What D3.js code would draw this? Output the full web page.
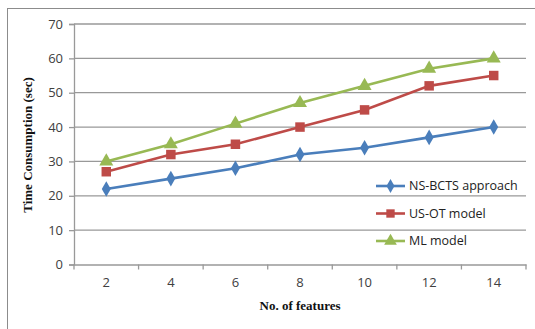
<!DOCTYPE html>
<html><head><meta charset="utf-8">
<script src="https://cdn.jsdelivr.net/npm/d3@7"></script>
<style>body{margin:0;background:#fff}svg{display:block}</style>
</head><body>
<svg id="c" width="535" height="329"></svg>
<script>
const categories = ["2","4","6","8","10","12","14"];
const nsbcts = [22,25,28,32,34,37,40];
const usot = [27,32,35,40,45,52,55];
const ml = [30,35,41,47,52,57,60];
const yTicks = [0,10,20,30,40,50,60,70];
const seriesNames = ["NS-BCTS approach","US-OT model","ML model"];

const series = [
  {name: seriesNames[0], values: nsbcts, color: "#4a7ebb", shape: d3.symbolDiamond},
  {name: seriesNames[1], values: usot, color: "#be4b48", shape: d3.symbolSquare},
  {name: seriesNames[2], values: ml, color: "#98b954", shape: d3.symbolTriangle}
];

const svg = d3.select("#c");
svg.append("rect").attr("x",7.5).attr("y",8.5).attr("width",600).attr("height",400)
  .attr("fill","none").attr("stroke","#8c8c8c").attr("stroke-width",1);

const L = 74, R = 526, T = 24, B = 264.5;
const x = d3.scaleBand().domain(categories).range([L,R]);
const y = d3.scaleLinear().domain([0,70]).range([B,T]);

// gridlines
svg.append("g").selectAll("line").data(yTicks.filter(d=>d>0)).join("line")
  .attr("x1",L).attr("x2",R).attr("y1",d=>y(d)).attr("y2",d=>y(d))
  .attr("stroke","#999").attr("stroke-width",1.3);

// y axis
const ya = svg.append("g").attr("transform",`translate(${L},0)`)
  .call(d3.axisLeft(y).tickValues(yTicks).tickSize(5).tickPadding(6));
ya.select(".domain").attr("stroke","#999").attr("stroke-width",1.3);
ya.selectAll(".tick line").attr("stroke","#999").attr("stroke-width",1.3);
ya.selectAll("text").attr("font-family","Open Sans, sans-serif").attr("font-size",13).attr("fill","#404040");

// x axis
const xa = svg.append("g").attr("transform",`translate(0,${B})`)
  .call(d3.axisBottom(x).tickSize(0).tickPadding(13));
xa.select(".domain").attr("stroke","#999").attr("stroke-width",1.3);
xa.selectAll(".tick line").remove();
xa.selectAll("text").attr("font-family","Open Sans, sans-serif").attr("font-size",13).attr("fill","#404040");
const bounds = categories.map(c=>x(c)).concat([R]);
svg.append("g").selectAll("line").data(bounds).join("line")
  .attr("x1",d=>d).attr("x2",d=>d).attr("y1",B).attr("y2",B+5)
  .attr("stroke","#999").attr("stroke-width",1.3);

const cx = c => x(c) + x.bandwidth()/2;
const line = d3.line().x((d,i)=>cx(categories[i])).y(d=>y(d));

series.forEach(s=>{
  svg.append("path").datum(s.values).attr("d",line)
    .attr("fill","none").attr("stroke",s.color).attr("stroke-width",2.6);
  svg.append("g").selectAll("path").data(s.values).join("path")
    .attr("transform",(d,i)=>`translate(${cx(categories[i])},${y(d)})`)
    .attr("d",d3.symbol().type(s.shape).size(s.shape===d3.symbolDiamond?70:s.shape===d3.symbolSquare?90:85))
    .attr("fill",s.color);
});

// legend
const lg = svg.append("g");
series.forEach((s,i)=>{
  const ly = 186 + i*27.5;
  lg.append("line").attr("x1",376).attr("x2",405).attr("y1",ly).attr("y2",ly)
    .attr("stroke",s.color).attr("stroke-width",2.6);
  lg.append("path").attr("transform",`translate(390.5,${ly})`)
    .attr("d",d3.symbol().type(s.shape).size(s.shape===d3.symbolDiamond?55:70)).attr("fill",s.color);
  lg.append("text").attr("x",409).attr("y",ly).attr("dy","0.35em")
    .attr("font-family","Open Sans, sans-serif").attr("font-size",12.5).attr("fill","#222").text(s.name);
});

// axis titles
svg.append("text").attr("transform","translate(27,145) rotate(-90)").attr("text-anchor","middle")
  .attr("dy","0.35em").attr("font-family","Liberation Serif, serif").attr("font-weight","bold")
  .attr("font-size",13).attr("fill","#111").text("Time Consumption (sec)");
svg.append("text").attr("x",300).attr("y",305).attr("text-anchor","middle").attr("dy","0.35em")
  .attr("font-family","Liberation Serif, serif").attr("font-weight","bold")
  .attr("font-size",13).attr("fill","#111").text("No. of features");
</script>
</body></html>
